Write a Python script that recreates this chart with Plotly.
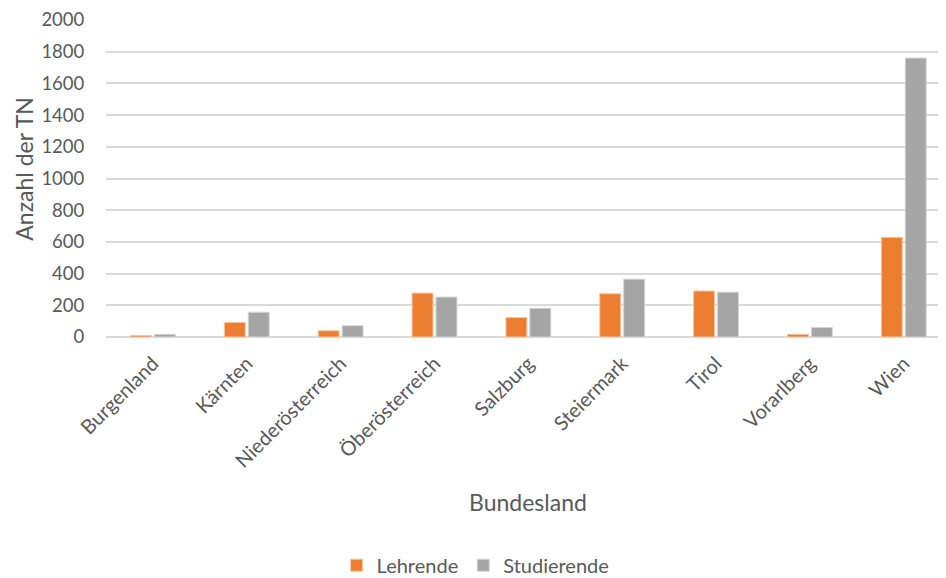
import plotly.graph_objects as go

categories = ["Burgenland", "Kärnten", "Niederösterreich", "Öberösterreich", "Salzburg",
              "Steiermark", "Tirol", "Vorarlberg", "Wien"]
lehrende = [10, 92, 40, 277, 123, 273, 290, 17, 629]
studierende = [17, 156, 71, 252, 181, 365, 283, 60, 1760]
y_ticks = [0, 200, 400, 600, 800, 1000, 1200, 1400, 1600, 1800, 2000]

FONT = "Lato, 'Open Sans', sans-serif"
TXT = "#595959"

fig = go.Figure()
fig.add_trace(go.Bar(name="Lehrende", x=categories, y=lehrende,
                     marker=dict(color="#ED7D31", line=dict(color="#F7C6A3", width=1))))
fig.add_trace(go.Bar(name="Studierende", x=categories, y=studierende,
                     marker=dict(color="#A5A5A5", line=dict(color="#D4D4D4", width=1))))

fig.update_layout(
    width=946, height=578,
    margin=dict(l=98, r=8, t=12, b=249, autoexpand=False),
    paper_bgcolor="white", plot_bgcolor="white",
    barmode="group", bargap=0.49, bargroupgap=0.125,
    font=dict(family=FONT, color=TXT, size=18),
    showlegend=True,
    legend=dict(orientation="h", x=0.44, xanchor="center", y=-0.72, yanchor="middle",
                font=dict(size=20, color=TXT), itemwidth=30, traceorder="normal"),
    xaxis=dict(range=[-0.5, 8.45], tickangle=-45, tickfont=dict(size=20, color=TXT),
               showgrid=False, showline=False, ticks="outside", ticklen=6,
               tickcolor="rgba(0,0,0,0)", zeroline=False, automargin=False),
    yaxis=dict(range=[0, 2000], tickvals=y_ticks, tickfont=dict(size=18.5, color=TXT),
               showgrid=True, gridcolor="#D9D9D9", gridwidth=1.5,
               zeroline=True, zerolinecolor="#D9D9D9", zerolinewidth=1.5,
               ticks="outside", ticklen=17, tickcolor="rgba(0,0,0,0)", showline=False,
               automargin=False),
    annotations=[
        dict(text="Anzahl der TN", xref="paper", yref="paper", x=-0.098, y=0.53,
             xanchor="center", yanchor="middle", textangle=-90, showarrow=False,
             font=dict(size=23, color=TXT)),
        dict(text="Bundesland", xref="paper", yref="paper", x=0.502, y=-0.52,
             xanchor="center", yanchor="middle", showarrow=False,
             font=dict(size=23, color=TXT)),
    ],
)

fig.write_html("out.html")
